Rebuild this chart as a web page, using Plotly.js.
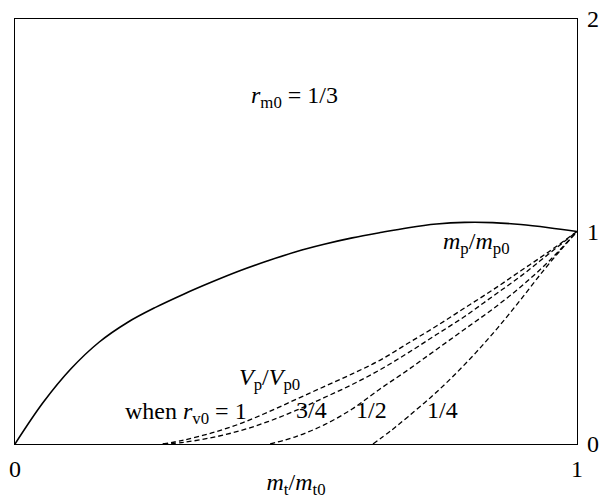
<!DOCTYPE html>
<html>
<head>
<meta charset="utf-8">
<script src="https://cdn.plot.ly/plotly-3.0.1.min.js"></script>
<style>html,body{margin:0;padding:0;background:#fff;}</style>
</head>
<body>
<div id="chart" style="width:602px;height:499px;"></div>
<script>
// m_p/m_p0 (solid)
const mpX = [0, 0.05, 0.10, 0.15, 0.20, 0.25, 0.30, 0.35, 0.40, 0.45, 0.50, 0.55, 0.60, 0.65, 0.70, 0.75, 0.80, 0.85, 0.90, 0.95, 1.0];
const mpY = [0, 0.195, 0.355, 0.48, 0.572, 0.643, 0.705, 0.762, 0.815, 0.862, 0.905, 0.94, 0.97, 0.995, 1.018, 1.035, 1.043, 1.042, 1.033, 1.018, 1.0];

// V_p/V_p0 (dashed) for r_v0 = 1, 3/4, 1/2, 1/4
const v1X = [0.263, 0.30, 0.35, 0.40, 0.45, 0.50, 0.55, 0.60, 0.65, 0.70, 0.75, 0.80, 0.85, 0.90, 0.95, 1.0];
const v1Y = [0, 0.018, 0.052, 0.095, 0.15, 0.21, 0.27, 0.33, 0.395, 0.475, 0.555, 0.64, 0.725, 0.815, 0.905, 1.0];
const v2X = [0.263, 0.30, 0.35, 0.40, 0.45, 0.50, 0.55, 0.60, 0.65, 0.70, 0.75, 0.80, 0.85, 0.90, 0.95, 1.0];
const v2Y = [0, 0.008, 0.03, 0.062, 0.105, 0.158, 0.218, 0.28, 0.35, 0.43, 0.515, 0.60, 0.695, 0.79, 0.895, 1.0];
const v3X = [0.454, 0.50, 0.55, 0.60, 0.65, 0.70, 0.75, 0.80, 0.85, 0.90, 0.95, 1.0];
const v3Y = [0, 0.035, 0.09, 0.165, 0.26, 0.35, 0.445, 0.54, 0.635, 0.74, 0.86, 1.0];
const v4X = [0.637, 0.67, 0.70, 0.74, 0.78, 0.82, 0.86, 0.90, 0.94, 0.97, 1.0];
const v4Y = [0, 0.065, 0.13, 0.22, 0.32, 0.43, 0.55, 0.68, 0.815, 0.91, 1.0];

const xTicks = [0, 1];
const yTicks = [0, 1, 2];

const FONT = "Liberation Serif, Times New Roman, serif";
const FS = 24;

const dashLine = {color: '#000', width: 1.3, dash: '5px,3px', shape: 'spline', smoothing: 1};
const traces = [
  {x: mpX, y: mpY, mode: 'lines', line: {color: '#000', width: 1.6, shape: 'spline', smoothing: 1}, hoverinfo: 'skip'},
  {x: v1X, y: v1Y, mode: 'lines', line: dashLine, hoverinfo: 'skip'},
  {x: v2X, y: v2Y, mode: 'lines', line: dashLine, hoverinfo: 'skip'},
  {x: v3X, y: v3Y, mode: 'lines', line: dashLine, hoverinfo: 'skip'},
  {x: v4X, y: v4Y, mode: 'lines', line: dashLine, hoverinfo: 'skip'},
  {x: [0, 1], y: [0, 0], yaxis: 'y2', mode: 'lines', line: {width: 0}, hoverinfo: 'skip'},
  {x: [0, 1], y: [0, 0], yaxis: 'y3', mode: 'lines', line: {width: 0}, hoverinfo: 'skip'}
];

function ann(text, x, y) {
  return {text: text, x: x, y: y, xref: 'x', yref: 'y', showarrow: false,
          xanchor: 'center', yanchor: 'middle',
          font: {family: FONT, size: FS, color: '#000'}};
}

const layout = {
  width: 602, height: 499,
  margin: {l: 15, r: 25, t: 19, b: 55, pad: 0},
  paper_bgcolor: '#fff', plot_bgcolor: '#fff',
  showlegend: false,
  font: {family: FONT, size: FS, color: '#000'},
  xaxis: {
    range: [0, 1], tickvals: xTicks, ticktext: xTicks.map(String),
    ticks: '', showgrid: false, zeroline: false,
    showline: true, mirror: true, linecolor: '#000', linewidth: 1,
    ticklabelstandoff: 3,
    title: {text: '<i>m</i><sub>t</sub>/<i>m</i><sub>t0</sub>', standoff: 0,
            font: {family: FONT, size: FS, color: '#000'}}
  },
  yaxis: {
    range: [0, 2], tickvals: [0, 2], ticks: 'inside', ticklen: 13, tickwidth: 2, tickcolor: '#000',
    showticklabels: false, showgrid: false, zeroline: false,
    showline: true, mirror: true, linecolor: '#000', linewidth: 1
  },
  yaxis2: {
    range: [0, 2], overlaying: 'y', side: 'right', tickvals: yTicks, ticktext: yTicks.map(String),
    ticks: '', showgrid: false, zeroline: false, showline: false, ticklabelstandoff: 9,
    tickfont: {family: FONT, size: FS, color: '#000'}
  },
  yaxis3: {
    range: [0, 2], overlaying: 'y', side: 'right', tickvals: [0], ticks: 'inside', ticklen: 13,
    tickwidth: 2, tickcolor: '#000', showticklabels: false, showgrid: false, zeroline: false, showline: false
  },
  annotations: [
    ann('<i>r</i><sub>m0</sub> = 1/3', 0.498, 1.635),
    ann('<i>m</i><sub>p</sub>/<i>m</i><sub>p0</sub>', 0.822, 0.946),
    ann('<i>V</i><sub>p</sub>/<i>V</i><sub>p0</sub>', 0.452, 0.305),
    ann('when <i>r</i><sub>v0</sub> = 1', 0.304, 0.148),
    ann('3/4', 0.527, 0.158),
    ann('1/2', 0.635, 0.158),
    ann('1/4', 0.760, 0.158)
  ]
};

Plotly.newPlot('chart', traces, layout, {staticPlot: true, displayModeBar: false});
</script>
</body>
</html>
